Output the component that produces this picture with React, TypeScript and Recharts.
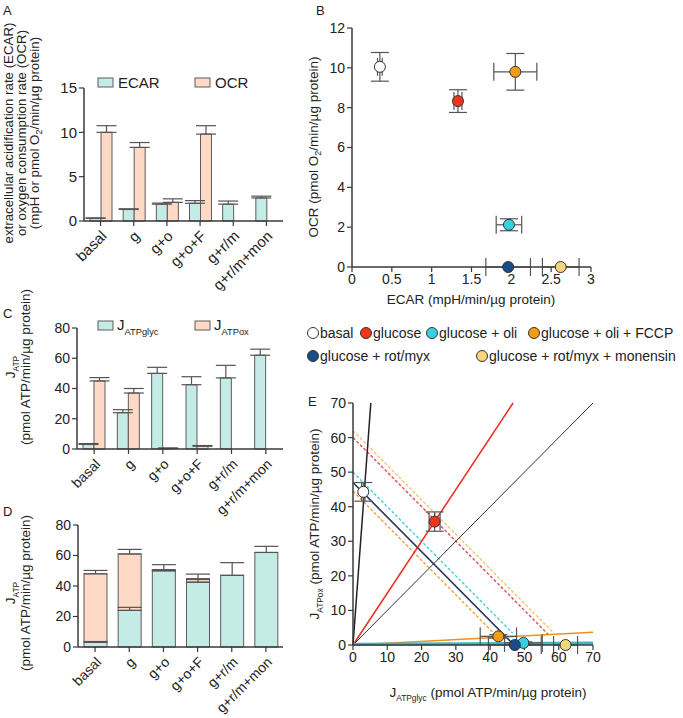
import React from "react";
import {
  Bar,
  BarChart,
  ComposedChart,
  ErrorBar,
  Line,
  Scatter,
  XAxis,
  YAxis,
} from "recharts";

const FONT = "'Liberation Sans', Arial, sans-serif";
const INK = "#222";
const AXIS = "#3a3a3a";
const BAR_EDGE = "#5c5c5c";
const TEAL_FILL = "#c4ebe6";
const PEACH_FILL = "#fdd9c6";

// bar panels A, C, D
const treatments = ["basal", "g", "g+o", "g+o+F", "g+r/m", "g+r/m+mon"];
const ecar = [0.3, 1.3, 1.9, 2.0, 1.9, 2.6];
const ecarSem = [0.05, 0.08, 0.12, 0.3, 0.35, 0.2];
const ocr = [10.0, 8.3, 2.1, 9.8, 0, 0];
const ocrSem = [0.75, 0.55, 0.4, 0.95, 0, 0];
const jGlyc = [3, 24, 50, 42.5, 47, 62];
const jGlycSem = [0.6, 2, 4, 5.3, 8.3, 4];
const jOx = [45, 37, 0.4, 1.8, 0, 0];
const jOxSem = [2.2, 3, 0.3, 0.5, 0, 0];

// scatter panels B, E
const conditions = [
  "basal",
  "glucose",
  "glucose + oli",
  "glucose + oli + FCCP",
  "glucose + rot/myx",
  "glucose + rot/myx + monensin",
];
const condColors = ["#ffffff", "#f0341e", "#35d3e0", "#f49c16", "#1b4c8a", "#f6d67c"];

const bEcar = [0.35, 1.33, 1.97, 2.05, 1.96, 2.62];
const bEcarSem = [0.03, 0.05, 0.16, 0.27, 0.28, 0.23];
const bOcr = [10.05, 8.33, 2.12, 9.8, 0, 0];
const bOcrSem = [0.72, 0.57, 0.3, 0.92, 0, 0];

const eGlyc = [3, 23.8, 49.7, 42.4, 47.2, 62];
const eGlycSem = [0.5, 1.6, 5.5, 5.3, 7.7, 3.5];
const eOx = [44.3, 35.7, 0.6, 2.5, 0, 0];
const eOxSem = [2.7, 2.8, 0.3, 0.5, 0, 0];

// lines in E: [x1, y1, x2, y2]
const ratioLines = [
  [0, 0, 5.2, 70],
  [0, 0, 46.7, 70],
  [0, 0, 70, 70],
  [0, 0, 70, 3.7],
  [0, 0.2, 70, 0.6],
];
const ratioColors = ["#222", "#ee2c1c", "#333", "#f0901c", "#3cb8c4"];
const ratioWidths = [1.5, 1.5, 1, 1.5, 3];

const isoLines = [
  [0, 62, 58.5, 3.5],
  [0, 60, 57, 3],
  [0, 50, 46.6, 3.4],
  [0, 47, 47, 0],
  [0, 44.5, 42, 2.5],
];
const isoColors = ["#f6c15a", "#e8404f", "#3ec9e3", "#23395a", "#f09a30"];
const isoDashed = [true, true, true, false, true];

const tickStyle = (size: number) => ({ fill: INK, fontSize: size, fontFamily: FONT });

function SlantTick(props: any) {
  const { x, y, payload, size } = props;
  const ax = x + 7;
  const ay = y + 9;
  return (
    <text
      x={ax}
      y={ay}
      textAnchor="end"
      transform={`rotate(-45 ${ax} ${ay})`}
      fontSize={size}
      fill={INK}
      fontFamily={FONT}
    >
      {payload.value}
    </text>
  );
}

const dot = (color: string) => (p: any) =>
  <circle cx={p.cx} cy={p.cy} r={5.5} fill={color} stroke="#333" strokeWidth={1} />;

function Sub({ main, sub, size }: { main: string; sub: string; size: number }) {
  return (
    <>
      <tspan>{main}</tspan>
      <tspan dy={size * 0.3} fontSize={size * 0.62}>
        {sub}
      </tspan>
    </>
  );
}

export default function App() {
  const tableA = treatments.map((name, i) => ({
    name,
    ecar: ecar[i],
    ecarErr: [0, ecarSem[i]],
    ocr: ocr[i],
    ocrErr: ocr[i] ? [0, ocrSem[i]] : null,
  }));
  const tableJ = treatments.map((name, i) => ({
    name,
    glyc: jGlyc[i],
    glycErr: [0, jGlycSem[i]],
    ox: jOx[i],
    oxErr: jOx[i] ? [0, jOxSem[i]] : null,
  }));
  const pointsB = conditions.map((c, i) => [
    { x: bEcar[i], y: bOcr[i], xe: bEcarSem[i] || null, ye: bOcrSem[i] || null },
  ]);
  const pointsE = conditions.map((c, i) => [
    { x: eGlyc[i], y: eOx[i], xe: eGlycSem[i] || null, ye: eOxSem[i] || null },
  ]);

  const axisProps = {
    stroke: AXIS,
    axisLine: { stroke: AXIS, strokeWidth: 1.5 },
    tickLine: { stroke: AXIS, strokeWidth: 1.2 },
    tickSize: 5,
  };

  const barProps = { stroke: BAR_EDGE, strokeWidth: 1, isAnimationActive: false };
  const errProps = { stroke: "#555", strokeWidth: 1.2 };

  return (
    <div
      style={{
        position: "absolute",
        left: 0,
        top: 0,
        width: 683,
        height: 718,
        background: "#fff",
        fontFamily: FONT,
      }}
    >
      {/* A */}
      <div style={{ position: "absolute", left: 0, top: 60 }}>
        <BarChart width={290} height={231} data={tableA} margin={{ top: 28, right: 7, bottom: 0, left: 0 }} barGap={0} barSize={11}>
          <XAxis dataKey="name" interval={0} height={70} {...axisProps} tick={(p: any) => <SlantTick {...p} size={15} />} />
          <YAxis type="number" domain={[0, 15]} ticks={[0, 5, 10, 15]} width={84} {...axisProps} tick={tickStyle(15)} />
          <Bar dataKey="ecar" fill={TEAL_FILL} {...barProps}>
            <ErrorBar dataKey="ecarErr" width={10} {...errProps} />
          </Bar>
          <Bar dataKey="ocr" fill={PEACH_FILL} {...barProps}>
            <ErrorBar dataKey="ocrErr" width={10} {...errProps} />
          </Bar>
        </BarChart>
      </div>

      {/* C */}
      <div style={{ position: "absolute", left: 0, top: 300 }}>
        <BarChart width={290} height={219} data={tableJ} margin={{ top: 28, right: 7, bottom: 0, left: 0 }} barGap={0} barSize={11}>
          <XAxis dataKey="name" interval={0} height={70} {...axisProps} tick={(p: any) => <SlantTick {...p} size={14} />} />
          <YAxis type="number" domain={[0, 80]} ticks={[0, 20, 40, 60, 80]} width={77} {...axisProps} tick={tickStyle(14)} />
          <Bar dataKey="glyc" fill={TEAL_FILL} {...barProps}>
            <ErrorBar dataKey="glycErr" width={10} {...errProps} />
          </Bar>
          <Bar dataKey="ox" fill={PEACH_FILL} {...barProps}>
            <ErrorBar dataKey="oxErr" width={10} {...errProps} />
          </Bar>
        </BarChart>
      </div>

      {/* D */}
      <div style={{ position: "absolute", left: 0, top: 500 }}>
        <BarChart width={290} height={217} data={tableJ} margin={{ top: 25, right: 7, bottom: 0, left: 0 }} barSize={23}>
          <XAxis dataKey="name" interval={0} height={70} {...axisProps} tick={(p: any) => <SlantTick {...p} size={14} />} />
          <YAxis type="number" domain={[0, 80]} ticks={[0, 20, 40, 60, 80]} width={78} {...axisProps} tick={tickStyle(14)} />
          <Bar dataKey="glyc" stackId="j" fill={TEAL_FILL} {...barProps}>
            <ErrorBar dataKey="glycErr" width={12} {...errProps} />
          </Bar>
          <Bar dataKey="ox" stackId="j" fill={PEACH_FILL} {...barProps}>
            <ErrorBar dataKey="oxErr" width={12} {...errProps} />
          </Bar>
        </BarChart>
      </div>

      {/* B */}
      <div style={{ position: "absolute", left: 300, top: 0 }}>
        <ComposedChart width={311} height={292} margin={{ top: 28, right: 20, bottom: 0, left: 0 }}>
          <XAxis type="number" dataKey="x" domain={[0, 3]} ticks={[0, 0.5, 1, 1.5, 2, 2.5, 3]} height={25} {...axisProps} tick={tickStyle(14)} />
          <YAxis type="number" dataKey="y" domain={[0, 12]} ticks={[0, 2, 4, 6, 8, 10, 12]} width={52} {...axisProps} tick={tickStyle(14)} />
          {pointsB.map((pts, i) => (
            <Scatter key={conditions[i]} name={conditions[i]} data={pts} dataKey="y" isAnimationActive={false} shape={dot(condColors[i])}>
              <ErrorBar dataKey="xe" direction="x" width={9} {...errProps} />
              <ErrorBar dataKey="ye" direction="y" width={9} {...errProps} />
            </Scatter>
          ))}
        </ComposedChart>
      </div>

      {/* E */}
      <div style={{ position: "absolute", left: 300, top: 380 }}>
        <ComposedChart width={313} height={290} margin={{ top: 23, right: 20, bottom: 0, left: 0 }}>
          <XAxis type="number" dataKey="x" domain={[0, 70]} ticks={[0, 10, 20, 30, 40, 50, 60, 70]} height={25} {...axisProps} tick={tickStyle(14)} />
          <YAxis type="number" domain={[0, 70]} ticks={[0, 10, 20, 30, 40, 50, 60, 70]} width={53} {...axisProps} tick={tickStyle(14)} />
          {isoLines.map((l, i) => (
            <Line
              key={`iso${i}`}
              data={[{ x: l[0], y: l[1] }, { x: l[2], y: l[3] }]}
              dataKey="y"
              type="linear"
              stroke={isoColors[i]}
              strokeWidth={isoDashed[i] ? 1.3 : 1.6}
              strokeDasharray={isoDashed[i] ? "3 2" : undefined}
              dot={false}
              activeDot={false}
              isAnimationActive={false}
            />
          ))}
          {ratioLines.map((l, i) => (
            <Line
              key={`ratio${i}`}
              data={[{ x: l[0], y: l[1] }, { x: l[2], y: l[3] }]}
              dataKey="y"
              type="linear"
              stroke={ratioColors[i]}
              strokeWidth={ratioWidths[i]}
              dot={false}
              activeDot={false}
              isAnimationActive={false}
            />
          ))}
          {pointsE.map((pts, i) => (
            <Scatter key={conditions[i]} name={conditions[i]} data={pts} dataKey="y" isAnimationActive={false} shape={dot(condColors[i])}>
              <ErrorBar dataKey="xe" direction="x" width={9} {...errProps} />
              <ErrorBar dataKey="ye" direction="y" width={9} {...errProps} />
            </Scatter>
          ))}
        </ComposedChart>
      </div>

      {/* titles, legends */}
      <svg
        width={683}
        height={718}
        style={{ position: "absolute", left: 0, top: 0, pointerEvents: "none" }}
        fontFamily={FONT}
        fill={INK}
      >
        <g fontSize={13}>
          <text x={3} y={15}>A</text>
          <text x={316} y={15}>B</text>
          <text x={3} y={318}>C</text>
          <text x={3} y={516}>D</text>
          <text x={308} y={406}>E</text>
        </g>

        {/* A axis title */}
        <g fontSize={13.3} textAnchor="middle">
          <text x={13} y={133} transform="rotate(-90 13 133)">extracellular acidification rate (ECAR)</text>
          <text x={26} y={133} transform="rotate(-90 26 133)">or oxygen consumption rate (OCR)</text>
          <text x={39} y={133} transform="rotate(-90 39 133)">
            (mpH or pmol O<tspan dy={3} fontSize={9}>2</tspan>
            <tspan dy={-3}>/min/µg protein)</tspan>
          </text>
        </g>

        {/* A legend */}
        <g fontSize={15}>
          <rect x={98} y={78} width={15} height={9} fill={TEAL_FILL} stroke={BAR_EDGE} />
          <text x={118} y={88}>ECAR</text>
          <rect x={195} y={78} width={15} height={9} fill={PEACH_FILL} stroke={BAR_EDGE} />
          <text x={215} y={88}>OCR</text>
        </g>

        {/* B axis titles */}
        <g fontSize={13.5} textAnchor="middle">
          <text x={318} y={147} transform="rotate(-90 318 147)">
            OCR (pmol O<tspan dy={3} fontSize={9}>2</tspan>
            <tspan dy={-3}>/min/µg protein)</tspan>
          </text>
          <text x={471} y={304}>ECAR (mpH/min/µg protein)</text>
        </g>

        {/* C legend */}
        <g fontSize={15}>
          <rect x={98} y={321} width={15} height={9} fill={TEAL_FILL} stroke={BAR_EDGE} />
          <text x={117} y={330}>
            <Sub main="J" sub="ATPglyc" size={15} />
          </text>
          <rect x={195} y={321} width={15} height={9} fill={PEACH_FILL} stroke={BAR_EDGE} />
          <text x={214} y={330}>
            <Sub main="J" sub="ATPox" size={15} />
          </text>
        </g>

        {/* C, D axis titles */}
        <g fontSize={13.5} textAnchor="middle">
          <text x={15} y={367} transform="rotate(-90 15 367)">
            <Sub main="J" sub="ATP" size={13.5} />
          </text>
          <text x={30} y={367} transform="rotate(-90 30 367)">(pmol ATP/min/µg protein)</text>
          <text x={15} y={593} transform="rotate(-90 15 593)">
            <Sub main="J" sub="ATP" size={13.5} />
          </text>
          <text x={30} y={593} transform="rotate(-90 30 593)">(pmol ATP/min/µg protein)</text>
        </g>

        {/* condition legend */}
        <g fontSize={14}>
          {[
            [313, 333],
            [366, 333],
            [432, 333],
            [534, 333],
            [313, 356],
            [482, 356],
          ].map(([cx, cy], i) => (
            <g key={conditions[i]}>
              <circle cx={cx} cy={cy} r={5.5} fill={condColors[i]} stroke="#333" strokeWidth={1} />
              <text x={cx + 7} y={cy + 5}>{conditions[i]}</text>
            </g>
          ))}
        </g>

        {/* E axis titles */}
        <g fontSize={13.5} textAnchor="middle">
          <text x={319} y={524} transform="rotate(-90 319 524)">
            <Sub main="J" sub="ATPox" size={13.5} />
            <tspan dy={-13.5 * 0.3}> (pmol ATP/min/µg protein)</tspan>
          </text>
          <text x={488} y={697}>
            <Sub main="J" sub="ATPglyc" size={13.5} />
            <tspan dy={-13.5 * 0.3}> (pmol ATP/min/µg protein)</tspan>
          </text>
        </g>
      </svg>
    </div>
  );
}
